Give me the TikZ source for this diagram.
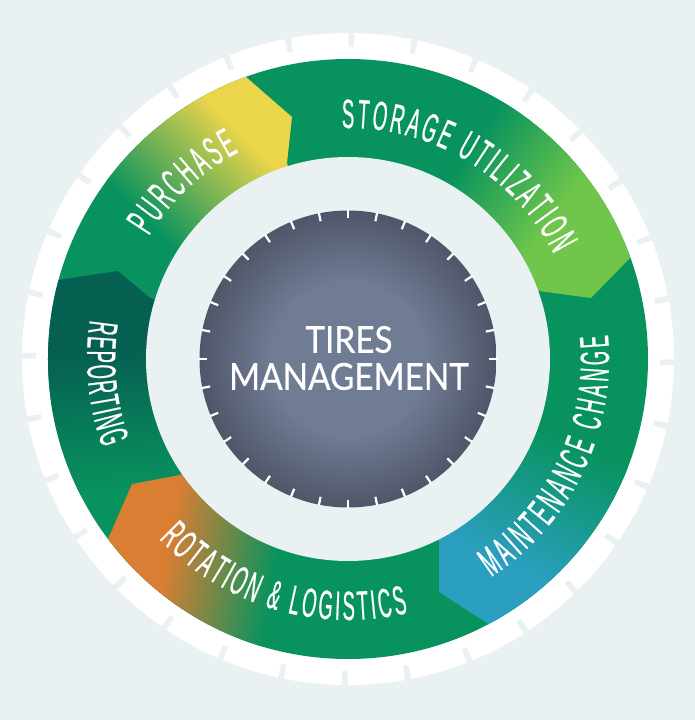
\documentclass[tikz,border=0pt]{standalone}
\usepackage{fontspec}
\usetikzlibrary{decorations.text}
\newfontfamily\bandfont[FakeStretch=0.45,FakeBold=0.5]{Liberation Sans}
\newfontfamily\hubfont[FakeStretch=0.9,FakeBold=0.5]{Lato}
\definecolor{bgc}{HTML}{E9F1F3}
\definecolor{bandgreen}{HTML}{08935E}
\definecolor{headyellow}{HTML}{EBD54B}
\definecolor{headlime}{HTML}{70C64A}
\definecolor{headblue}{HTML}{2B9FC0}
\definecolor{headorange}{HTML}{D97E33}
\definecolor{headteal}{HTML}{066052}
\definecolor{hubA}{HTML}{707B94}
\definecolor{hubB}{HTML}{505669}
\pgfdeclareradialshading{hubshade}{\pgfpointorigin}{color(0bp)=(hubA); color(13bp)=(hubA); color(25bp)=(hubB); color(50bp)=(hubB)}
\tikzset{
  bandtext/.style={decorate,decoration={text along path,text align={fit to path},text={#1}}},
}
\newcommand{\bandlab}{\bandfont\fontsize{41}{41}\selectfont\color{white}}
% wedge polygon, colour, gradient start, direction, length
\newcommand{\headpatch}[5]{%
  \begin{scope}
    \clip (0,0) circle[radius=300];
    \clip #1;
    \shade[transform canvas={shift={(#3)},rotate=#4},left color=bandgreen,right color=#2] (0,-900) rectangle (#5,900);
    \fill[#2,transform canvas={shift={(#3)},rotate=#4}] (#5-0.4,-900) rectangle (1500,900);
  \end{scope}}
\begin{document}
\begin{tikzpicture}[x=1pt,y=1pt]
\useasboundingbox (-348,-361) rectangle (347,359);
\fill[bgc] (-348,-361) rectangle (347,359);
% tread
\fill[white] (0,0) circle[radius=326];
\foreach \k in {0,...,31}{
  \pgfmathsetmacro{\a}{89.4-\k*11.25}
  \fill[bgc] (\a-0.48:312) -- (\a+0.48:312) -- (\a+0.55:330) -- (\a-0.55:330) -- cycle;
}
% band
\fill[bandgreen] (0,0) circle[radius=300];
\headpatch{(0,0) -- (158:450) -- (135:600) -- (-153,423) -- (-102,282) -- (-56,242) -- (-61,196) -- cycle}{headyellow}{-228,164}{45}{130}
\headpatch{(0,0) -- (85:450) -- (50:600) -- (423,151) -- (282,101) -- (243,61) -- (191,68) -- cycle}{headlime}{142,239}{-35}{110}
\headpatch{(0,0) -- (-5:450) -- (-35:600) -- (208,-396) -- (139,-264) -- (91,-233) -- (91,-182) -- cycle}{headblue}{242,-91}{245}{140}
\headpatch{(0,0) -- (228:450) -- (195:600) -- (-435,118) -- (-290,79) -- (-230,88) -- (-198,61) -- cycle}{headteal}{-258,-136}{95}{140}
\headpatch{(0,0) -- (285:450) -- (250:600) -- (-358,-267) -- (-239,-178) -- (-216,-125) -- (-168,-116) -- cycle}{headorange}{-78,-241}{170}{110}
% hole
\fill[bgc] (0,0) circle[radius=202];
% hub
\shade[shading=hubshade] (0,0) circle[radius=148.5];
\foreach \k in {0,...,31}{
  \draw[white,line width=2.2pt] (90-\k*11.25:140.5) -- (90-\k*11.25:149.5);
}
% labels
\path[bandtext={|\bandlab|STORAGE UTILIZATION}] (91.5:231) arc[start angle=91.5,end angle=27,radius=231];
\path[bandtext={|\bandlab|PURCHASE}] (148.3:234) arc[start angle=148.3,end angle=117.8,radius=234];
\path[bandtext={|\bandlab|REPORTING}] (171.4:261) arc[start angle=171.4,end angle=199.9,radius=261];
\path[bandtext={|\bandlab|ROTATION {\&} LOGISTICS}] (223.6:261) arc[start angle=223.6,end angle=283.3,radius=261];
\path[bandtext={|\bandlab|MAINTENANCE CHANGE}] (303.3:261) arc[start angle=303.3,end angle=365.3,radius=261];
\node[text=white,align=center,font=\hubfont\fontsize{37}{37}\selectfont,inner sep=0pt] (hub) at (1,1) {TIRES\\MANAGEMENT};
\end{tikzpicture}
\end{document}
